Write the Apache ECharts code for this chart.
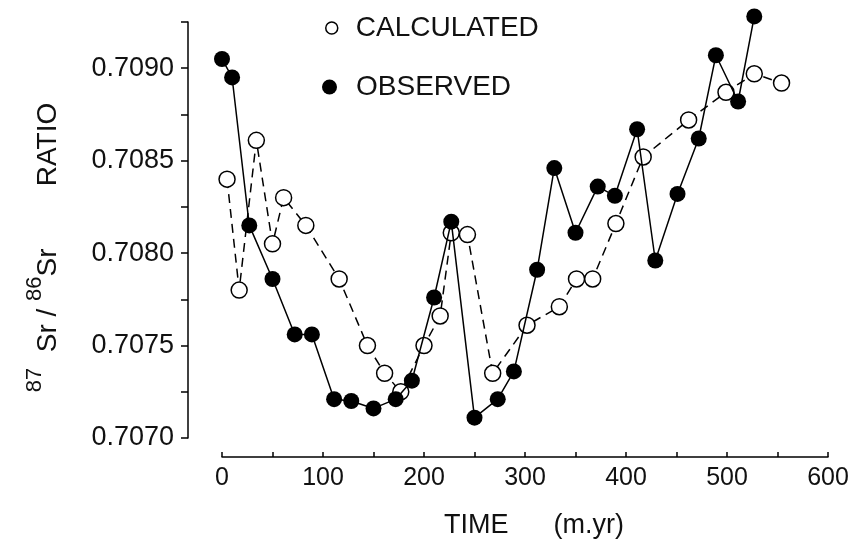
<!DOCTYPE html>
<html>
<head>
<meta charset="utf-8">
<script src="https://cdn.jsdelivr.net/npm/echarts@6/dist/echarts.min.js"></script>
<style>
html,body{margin:0;padding:0;background:#fff;}
#chart{width:856px;height:539px;}
</style>
</head>
<body>
<div id="chart"></div>
<script>
// Observed (filled circles)
var obsTime = [0, 10, 27, 50, 72, 89, 111, 128, 150, 172, 188, 210, 227, 250, 273, 289, 312, 329, 350, 372, 389, 411, 429, 451, 472, 489, 511, 527];
var obsRatio = [0.70905, 0.70895, 0.70815, 0.70786, 0.70756, 0.70756, 0.70721, 0.70720, 0.70716, 0.70721, 0.70731, 0.70776, 0.70817, 0.70711, 0.70721, 0.70736, 0.70791, 0.70846, 0.70811, 0.70836, 0.70831, 0.70867, 0.70796, 0.70832, 0.70862, 0.70907, 0.70882, 0.70928];
// Calculated (open circles)
var calcTime = [5, 17, 34, 50, 61, 83, 116, 144, 161, 177, 200, 216, 227, 243, 268, 302, 334, 351, 367, 390, 417, 462, 499, 527, 554];
var calcRatio = [0.70840, 0.70780, 0.70861, 0.70805, 0.70830, 0.70815, 0.70786, 0.70750, 0.70735, 0.70725, 0.70750, 0.70766, 0.70811, 0.70810, 0.70735, 0.70761, 0.70771, 0.70786, 0.70786, 0.70816, 0.70852, 0.70872, 0.70887, 0.70897, 0.70892];

var seriesNames = ['CALCULATED', 'OBSERVED'];
var xTitle = 'TIME      (m.yr)';

function pairs(xs, ys) { return xs.map(function (x, i) { return [x, ys[i]]; }); }

var FONT = '"Liberation Sans", Arial, Helvetica, sans-serif';
var chart = echarts.init(document.getElementById('chart'), null, {renderer: 'canvas'});
chart.setOption({
  animation: false,
  backgroundColor: '#fff',
  grid: {left: 222, right: 28, top: 22, bottom: 101, containLabel: false, outerBoundsMode: 'none'},
  legend: [
    {
      orient: 'vertical', left: 325, top: 14, padding: 0,
      itemWidth: 12, itemHeight: 12,
      textStyle: {fontFamily: FONT, fontSize: 28, color: '#111', padding: [0, 0, 0, 13]},
      data: [{name: seriesNames[0], icon: 'circle', itemStyle: {color: '#fff', borderColor: '#000', borderWidth: 1.5}}]
    },
    {
      orient: 'vertical', left: 322, top: 73, padding: 0,
      itemWidth: 15, itemHeight: 15,
      textStyle: {fontFamily: FONT, fontSize: 28, color: '#111', padding: [0, 0, 0, 14]},
      data: [{name: seriesNames[1], icon: 'circle', itemStyle: {color: '#000'}}]
    }
  ],
  xAxis: {
    type: 'value', min: 0, max: 600, interval: 50,
    offset: 19,
    axisLine: {show: true, onZero: false, lineStyle: {color: '#000', width: 1.5}},
    axisTick: {show: true, inside: true, length: 5, lineStyle: {color: '#000', width: 1.5}},
    splitLine: {show: false},
    axisLabel: {
      fontFamily: FONT, fontSize: 25, color: '#111', margin: 9,
      formatter: function (v) { return (Math.round(v) % 100 === 0) ? String(Math.round(v)) : ''; }
    },
    name: xTitle, nameLocation: 'middle', nameGap: 55,
    nameTextStyle: {fontFamily: FONT, fontSize: 27, color: '#111', padding: [0, 0, 0, 18]}
  },
  yAxis: {
    type: 'value', min: 0.7070, max: 0.70925, interval: 0.00025,
    offset: 34,
    axisLine: {show: true, onZero: false, lineStyle: {color: '#000', width: 1.5}},
    axisTick: {show: true, inside: false, length: 7, lineStyle: {color: '#000', width: 1.5}},
    splitLine: {show: false},
    axisLabel: {
      fontFamily: FONT, fontSize: 27, color: '#111', margin: 14,
      formatter: function (v) {
        var k = v * 2000;
        return Math.abs(k - Math.round(k)) < 1e-6 ? v.toFixed(4) : '';
      }
    },
    name: '{sup|87}{n|  Sr / }{sup|86}{n|Sr        RATIO}',
    nameLocation: 'middle', nameRotate: 90, nameGap: 126,
    nameTextStyle: {
      fontFamily: FONT, color: '#111', padding: [0, 35, 0, 0],
      rich: {
        sup: {fontFamily: FONT, fontSize: 22, color: '#111', verticalAlign: 'top', lineHeight: 14},
        n: {fontFamily: FONT, fontSize: 28, color: '#111', verticalAlign: 'bottom', lineHeight: 38}
      }
    }
  },
  series: [
    {
      name: seriesNames[0], type: 'line', z: 2,
      data: pairs(calcTime, calcRatio),
      symbol: 'circle', symbolSize: 16,
      lineStyle: {color: '#000', width: 1.5, type: [9, 6]},
      itemStyle: {color: '#fff', borderColor: '#000', borderWidth: 1.5},
      clip: false
    },
    {
      name: seriesNames[1], type: 'line', z: 3,
      data: pairs(obsTime, obsRatio),
      symbol: 'circle', symbolSize: 16,
      lineStyle: {color: '#000', width: 1.5},
      itemStyle: {color: '#000', borderColor: '#000', borderWidth: 0},
      clip: false
    }
  ]
});
</script>
</body>
</html>
